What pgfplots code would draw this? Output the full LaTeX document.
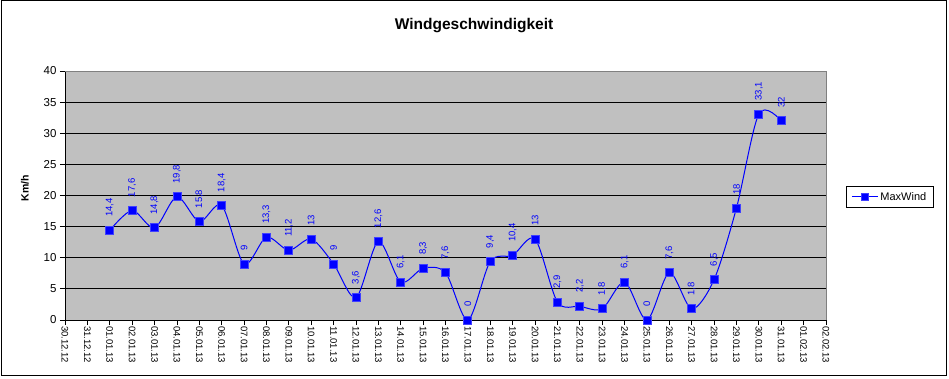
\documentclass[border=0pt]{standalone}
\usepackage{pgfplots}
\pgfplotsset{compat=1.18}
\usepackage{fontspec}
\setmainfont{Liberation Sans}
\definecolor{plotbg}{RGB}{192,192,192}
\definecolor{xlblue}{RGB}{0,0,255}
\definecolor{framegray}{RGB}{128,128,128}
\begin{document}
\begin{tikzpicture}[x=1pt,y=1pt]
\begin{axis}[
  anchor=south west,
  scale only axis, width=761pt, height=249pt,
  xmin=0, xmax=34, ymin=0, ymax=40,
  clip=false,
  axis background/.style={fill=plotbg},
  axis lines=left,
  axis line style={-, black, line width=0.8pt},
  tick align=outside,
  tick style={black, line width=0.8pt},
  major tick length=5pt,
  ytick={0,5,...,40},
  ymajorgrids,
  major grid style={black, line width=0.9pt},
  xtick={0,...,34},
  xticklabels={30.12.12,31.12.12,01.01.13,02.01.13,03.01.13,04.01.13,05.01.13,06.01.13,07.01.13,08.01.13,09.01.13,10.01.13,11.01.13,12.01.13,13.01.13,14.01.13,15.01.13,16.01.13,17.01.13,18.01.13,19.01.13,20.01.13,21.01.13,22.01.13,23.01.13,24.01.13,25.01.13,26.01.13,27.01.13,28.01.13,29.01.13,30.01.13,31.01.13,01.02.13,02.02.13},
  x tick label style={rotate=-90, anchor=west, font=\fontsize{9.5}{10}\selectfont, inner sep=1pt},
  y tick label style={font=\fontsize{11.5}{12}\selectfont},
  /pgf/number format/assume math mode=true,
  /pgf/number format/use comma,
  title={Windgeschwindigkeit},
  title style={at={(axis description cs:0.5375,1.158)}, anchor=center, font=\fontsize{15.5}{17}\selectfont\bfseries},
  ylabel={Km/h},
  ylabel style={at={(axis description cs:-0.0525,0.53)}, anchor=center, rotate=0, font=\fontsize{10.5}{12}\selectfont\bfseries},
  legend style={at={(1,0.494)}, anchor=west, xshift=20pt, draw=black, line width=0.8pt, fill=white, font=\fontsize{11}{13}\selectfont, inner xsep=5pt, inner ysep=4pt},
  legend image code/.code={\draw[xlblue,line width=1pt] (0pt,0pt) -- (26pt,0pt); \draw[#1,mark size=3.5pt] plot coordinates {(13pt,0pt)};},
  nodes near coords,
  every node near coord/.append style={rotate=90, anchor=west, inner xsep=13pt, font=\fontsize{9.5}{10}\selectfont, text=xlblue},
]
\addplot[xlblue, line width=1pt, smooth, tension=0.5, mark=square*, mark size=4pt, mark options={fill=xlblue, draw=xlblue!75!white, line width=0.8pt}]
  coordinates {
  (2,14.4) (3,17.6) (4,14.8) (5,19.8) (6,15.8) (7,18.4) (8,9) (9,13.3) (10,11.2) (11,13)
  (12,9) (13,3.6) (14,12.6) (15,6.1) (16,8.3) (17,7.6) (18,0) (19,9.4) (20,10.4) (21,13)
  (22,2.9) (23,2.2) (24,1.8) (25,6.1) (26,0) (27,7.6) (28,1.8) (29,6.5) (30,18) (31,33.1) (32,32)
  };
\addlegendentry{MaxWind}
\draw[framegray, line width=0.9pt] (rel axis cs:0,1) -- (rel axis cs:1,1) -- (rel axis cs:1,0);
\end{axis}
\draw[line width=1pt] (-63.5,-55.5) rectangle (881.5,319.5);
\pgfresetboundingbox
\path[use as bounding box] (-65,-58) rectangle (884,320);
\end{tikzpicture}
\end{document}
